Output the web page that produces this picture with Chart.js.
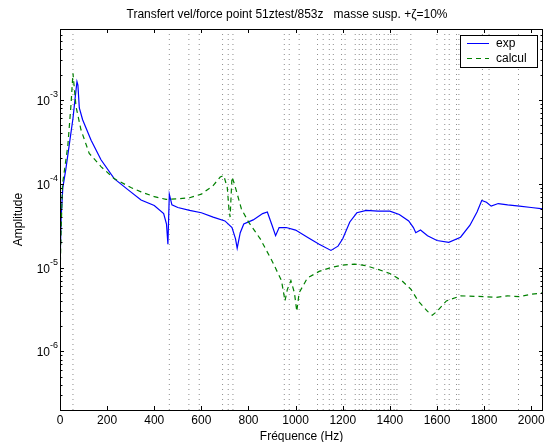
<!DOCTYPE html>
<html>
<head>
<meta charset="utf-8">
<script src="https://cdn.jsdelivr.net/npm/chart.js@4.4.0/dist/chart.umd.min.js"></script>
<style>
html, body { margin: 0; padding: 0; background: #fff; }
</style>
</head>
<body>
<canvas id="grafico-transfert" width="546" height="442"></canvas>
<script>
// Données
const titre = 'Transfert vel/force point 51ztest/853z   masse susp. +\u03b6=10%';
const labelX = 'Fréquence (Hz)';
const labelY = 'Amplitude';
const nomsSeries = ['exp', 'calcul'];

const freqExp = [0, 5, 12, 25, 40, 55, 65, 72, 76, 82, 96, 132, 174, 230, 288, 344, 400, 440, 452, 458, 464, 475, 500, 550, 600, 650, 700, 730, 745, 752, 765, 780, 820, 860, 880, 900, 915, 930, 960, 1000, 1050, 1100, 1150, 1180, 1200, 1230, 1260, 1300, 1350, 1400, 1440, 1480, 1500, 1510, 1530, 1560, 1600, 1650, 1700, 1740, 1770, 1790, 1810, 1830, 1860, 1900, 1950, 2000, 2050];
const ampExp = [1.0e-5, 4e-5, 9e-5, 1.5e-4, 3e-4, 6e-4, 1.1e-3, 1.65e-3, 1.5e-3, 8e-4, 5.8e-4, 3.3e-4, 1.93e-4, 1.15e-4, 8.5e-5, 6.4e-5, 5.5e-5, 4.4e-5, 3.3e-5, 1.9e-5, 7.5e-5, 5.6e-5, 5.2e-5, 4.8e-5, 4.5e-5, 4.0e-5, 3.6e-5, 3.0e-5, 2.2e-5, 1.7e-5, 2.6e-5, 3.3e-5, 3.7e-5, 4.4e-5, 4.6e-5, 3.2e-5, 2.4e-5, 3.0e-5, 3.0e-5, 2.8e-5, 2.3e-5, 1.9e-5, 1.6e-5, 1.8e-5, 2.2e-5, 3.5e-5, 4.5e-5, 4.8e-5, 4.7e-5, 4.7e-5, 4.3e-5, 3.6e-5, 3.0e-5, 2.6e-5, 2.8e-5, 2.4e-5, 2.1e-5, 2.0e-5, 2.3e-5, 3.2e-5, 4.6e-5, 6.3e-5, 6.0e-5, 5.4e-5, 5.8e-5, 5.6e-5, 5.4e-5, 5.2e-5, 5.0e-5];

const freqCalc = [0, 5, 11, 33, 47, 55, 68, 89, 124, 174, 230, 301, 344, 400, 450, 500, 550, 600, 650, 680, 695, 710, 717, 722, 730, 740, 770, 800, 850, 900, 940, 955, 965, 980, 995, 1005, 1015, 1050, 1100, 1150, 1200, 1250, 1300, 1350, 1400, 1450, 1490, 1520, 1560, 1580, 1600, 1640, 1700, 1800, 1850, 1900, 1950, 2000, 2050];
const ampCalc = [7e-6, 3e-5, 1e-4, 2.8e-4, 9e-4, 2.08e-3, 8.3e-4, 4.4e-4, 2.3e-4, 1.6e-4, 1.15e-4, 9e-5, 8e-5, 7e-5, 6.5e-5, 6.6e-5, 6.8e-5, 7.5e-5, 9.5e-5, 1.2e-4, 1.25e-4, 9e-5, 5e-5, 4e-5, 1.2e-4, 1.0e-4, 5e-5, 3.5e-5, 2.2e-5, 1.2e-5, 7e-6, 4e-6, 5.5e-6, 7e-6, 5e-6, 3e-6, 5e-6, 7.5e-6, 9e-6, 1.0e-5, 1.07e-5, 1.1e-5, 1.05e-5, 9.5e-6, 8.5e-6, 7e-6, 5.5e-6, 4e-6, 3e-6, 2.7e-6, 3e-6, 4e-6, 4.6e-6, 4.5e-6, 4.4e-6, 4.6e-6, 4.5e-6, 4.8e-6, 5e-6];

// fréquences propres (traits pointillés verticaux)
const freqModes = [55, 464, 547, 591, 690, 714, 734, 952, 973, 1015, 1093, 1117, 1143, 1160, 1195, 1210, 1253, 1270, 1284, 1298, 1320, 1344, 1356, 1376, 1393, 1404, 1418, 1430, 1489, 1600, 1633, 1652, 1683, 1693, 1793, 1821, 1946];

const ticksX = [0, 200, 400, 600, 800, 1000, 1200, 1400, 1600, 1800, 2000];
const decadesY = [-7, -6, -5, -4, -3, -2];
const labelsDecades = [-6, -5, -4, -3];
const limX = [0, 2050];
const limY = [2e-7, 7e-3];

const police = "'Liberation Sans', Arial, Helvetica, sans-serif";

function paires(xs, ys) {
    return xs.map((x, i) => ({ x: x, y: ys[i] }));
}

const datasetsModes = freqModes.map(f => ({
    label: 'mode',
    data: [{ x: f, y: limY[0] }, { x: f, y: limY[1] }],
    borderColor: 'rgba(0,0,0,0.45)',
    borderWidth: 1,
    borderDash: [1, 4],
    pointRadius: 0,
    order: 5
}));

// axes, graduations, légende et titres à la façon Matlab
const cadreMatlab = {
    id: 'cadreMatlab',
    afterDraw(chart) {
        const ctx = chart.ctx;
        const a = chart.chartArea;
        const sx = chart.scales.x;
        const sy = chart.scales.y;
        ctx.save();
        ctx.strokeStyle = '#000';
        ctx.lineWidth = 1;
        ctx.strokeRect(Math.round(a.left) + 0.5, Math.round(a.top) + 0.5, Math.round(a.right - a.left) - 1, Math.round(a.bottom - a.top));

        // graduations X
        ctx.beginPath();
        ticksX.forEach(v => {
            const px = Math.round(sx.getPixelForValue(v)) + 0.5;
            ctx.moveTo(px, a.bottom); ctx.lineTo(px, a.bottom - 4);
            ctx.moveTo(px, a.top); ctx.lineTo(px, a.top + 4);
        });
        // graduations Y (log)
        decadesY.forEach(d => {
            for (let m = 1; m < 10; m++) {
                const v = m * Math.pow(10, d);
                if (v < limY[0] || v > limY[1]) continue;
                const py = Math.round(sy.getPixelForValue(v)) + 0.5;
                const len = m === 1 ? 4 : 2.5;
                ctx.moveTo(a.left, py); ctx.lineTo(a.left + len, py);
                ctx.moveTo(a.right, py); ctx.lineTo(a.right - len, py);
            }
        });
        ctx.stroke();

        ctx.fillStyle = '#000';
        ctx.font = '12px ' + police;
        ctx.textAlign = 'center';
        ctx.textBaseline = 'top';
        ticksX.forEach(v => {
            ctx.fillText(String(v), sx.getPixelForValue(v), a.bottom + 5);
        });

        labelsDecades.forEach(d => {
            const py = sy.getPixelForValue(Math.pow(10, d));
            const expo = String(d);
            ctx.font = '9px ' + police;
            const we = ctx.measureText(expo).width;
            ctx.textAlign = 'left';
            ctx.textBaseline = 'alphabetic';
            ctx.fillText(expo, a.left - 2 - we, py - 3);
            ctx.font = '12px ' + police;
            ctx.textAlign = 'right';
            ctx.fillText('10', a.left - 2 - we, py + 5);
        });

        // titres
        ctx.font = '12px ' + police;
        ctx.textAlign = 'center';
        ctx.textBaseline = 'alphabetic';
        ctx.fillText(titre, 287, 18);
        ctx.fillText(labelX, (a.left + a.right) / 2, 440);
        ctx.save();
        ctx.translate(22, (a.top + a.bottom) / 2);
        ctx.rotate(-Math.PI / 2);
        ctx.fillText(labelY, 0, 0);
        ctx.restore();

        // légende
        const lx = 460, ly = 35, lw = 77, lh = 32;
        ctx.fillStyle = '#fff';
        ctx.fillRect(lx, ly, lw, lh);
        ctx.strokeStyle = '#000';
        ctx.strokeRect(lx + 0.5, ly + 0.5, lw, lh);
        const couleurs = ['#0000ff', '#008000'];
        const tirets = [[], [5, 4]];
        nomsSeries.forEach((nom, i) => {
            const yy = ly + 8.5 + i * 15;
            ctx.beginPath();
            ctx.strokeStyle = couleurs[i];
            ctx.setLineDash(tirets[i]);
            ctx.moveTo(lx + 7, yy); ctx.lineTo(lx + 29, yy);
            ctx.stroke();
            ctx.setLineDash([]);
            ctx.fillStyle = '#000';
            ctx.font = '12px ' + police;
            ctx.textAlign = 'left';
            ctx.textBaseline = 'middle';
            ctx.fillText(nom, lx + 36, yy);
        });
        ctx.restore();
    }
};

const ctx = document.getElementById('grafico-transfert').getContext('2d');
new Chart(ctx, {
    type: 'line',
    data: {
        datasets: [
            {
                label: nomsSeries[0],
                data: paires(freqExp, ampExp),
                borderColor: '#0000ff',
                borderWidth: 1.2,
                pointRadius: 0,
                tension: 0,
                order: 1
            },
            {
                label: nomsSeries[1],
                data: paires(freqCalc, ampCalc),
                borderColor: '#008000',
                borderWidth: 1.2,
                borderDash: [5, 4],
                pointRadius: 0,
                tension: 0,
                order: 0
            }
        ].concat(datasetsModes)
    },
    options: {
        responsive: false,
        animation: false,
        layout: { padding: { left: 60, right: 3, top: 29, bottom: 32 } },
        plugins: {
            legend: { display: false },
            tooltip: { enabled: false }
        },
        scales: {
            x: { type: 'linear', min: limX[0], max: limX[1], display: false },
            y: { type: 'logarithmic', min: limY[0], max: limY[1], display: false }
        }
    },
    plugins: [cadreMatlab]
});
</script>
</body>
</html>
